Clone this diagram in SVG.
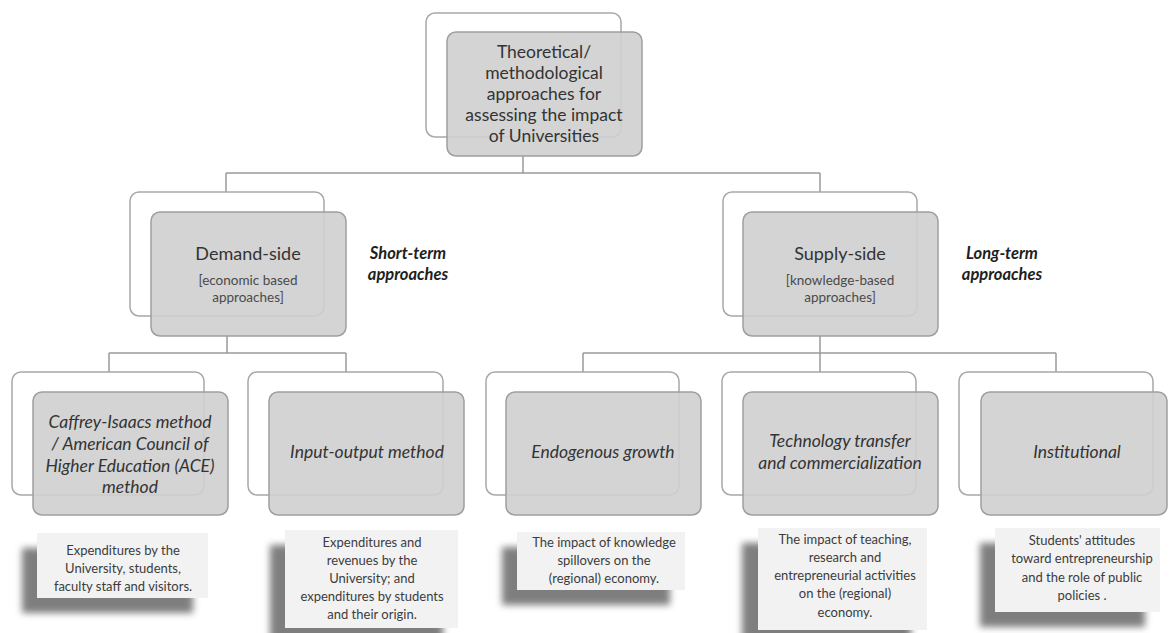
<svg xmlns="http://www.w3.org/2000/svg" width="1169" height="633" viewBox="0 0 1169 633">
  <defs>
    <style>
      .back { fill: #ffffff; stroke: #a8a8a8; stroke-width: 1.5; }
      .front { fill: #cfcfcf; fill-opacity: 0.9; stroke: #9e9e9e; stroke-width: 1.5; }
      .link { fill: none; stroke: #9a9a9a; stroke-width: 1.5; }
      .t { font-family: Lato, "Open Sans", sans-serif; fill: #333333; text-anchor: middle; }
      .title { font-size: 17.5px; }
      .main { font-size: 18px; }
      .sub { font-size: 13.5px; fill: #4a4a4a; }
      .meth { font-size: 17.5px; font-style: italic; }
      .side { font-size: 16.5px; font-style: italic; font-weight: bold; fill: #1e1e1e; }
      .desc { font-size: 13px; fill: #3c3c3c; }
      .card { fill: #f2f2f2; }
      .shade { fill: #5e5e5e; opacity: 0.8; filter: url(#blur); }
    </style>
    <filter id="blur" x="-20%" y="-30%" width="140%" height="160%">
      <feGaussianBlur stdDeviation="3.5"/>
    </filter>
  </defs>

  <rect width="1169" height="633" fill="#ffffff"/>

  <!-- connectors -->
  <g id="connectors">
    <path class="link" d="M523 156 V173 M226 173 H820 M226 173 V192 M820 173 V192"/>
    <path class="link" d="M227 336 V353 M109 353 H346 M109 353 V372 M346 353 V372"/>
    <path class="link" d="M820 336 V353 M583 353 H1056 M583 353 V372 M820 353 V372 M1056 353 V372"/>
  </g>

  <!-- root -->
  <g id="root">
    <rect class="back" x="426" y="13" width="195" height="124" rx="9"/>
    <rect class="front" x="447" y="32" width="195" height="124" rx="9"/>
    <text class="t title" x="544" y="58">Theoretical/</text>
    <text class="t title" x="544" y="79">methodological</text>
    <text class="t title" x="544" y="100">approaches for</text>
    <text class="t title" x="544" y="121">assessing the impact</text>
    <text class="t title" x="544" y="142">of Universities</text>
  </g>

  <!-- demand side -->
  <g id="demand-side">
    <rect class="back" x="130" y="192" width="194" height="124" rx="9"/>
    <rect class="front" x="151" y="212" width="195" height="124" rx="9"/>
    <text class="t main" x="248" y="260">Demand-side</text>
    <text class="t sub" x="248" y="285">[economic based</text>
    <text class="t sub" x="248" y="302">approaches]</text>
  </g>
  <g id="short-term">
    <text class="t side" x="408" y="259">Short-term</text>
    <text class="t side" x="408" y="280">approaches</text>
  </g>

  <!-- supply side -->
  <g id="supply-side">
    <rect class="back" x="723" y="192" width="194" height="124" rx="9"/>
    <rect class="front" x="743" y="212" width="195" height="124" rx="9"/>
    <text class="t main" x="840" y="260">Supply-side</text>
    <text class="t sub" x="840" y="285">[knowledge-based</text>
    <text class="t sub" x="840" y="302">approaches]</text>
  </g>
  <g id="long-term">
    <text class="t side" x="1002" y="259">Long-term</text>
    <text class="t side" x="1002" y="280">approaches</text>
  </g>

  <!-- methods -->
  <g id="caffrey-isaacs">
    <rect class="back" x="12" y="372" width="192" height="123" rx="9"/>
    <rect class="front" x="33" y="392" width="195" height="123" rx="9"/>
    <text class="t meth" x="130" y="428">Caffrey-Isaacs method</text>
    <text class="t meth" x="130" y="450">/ American Council of</text>
    <text class="t meth" x="130" y="472">Higher Education (ACE)</text>
    <text class="t meth" x="130" y="493">method</text>
  </g>
  <g id="input-output">
    <rect class="back" x="248" y="372" width="195" height="123" rx="9"/>
    <rect class="front" x="269" y="392" width="195" height="123" rx="9"/>
    <text class="t meth" x="367" y="458">Input-output method</text>
  </g>
  <g id="endogenous-growth">
    <rect class="back" x="486" y="372" width="193" height="123" rx="9"/>
    <rect class="front" x="506" y="392" width="195" height="123" rx="9"/>
    <text class="t meth" x="603" y="458">Endogenous growth</text>
  </g>
  <g id="technology-transfer">
    <rect class="back" x="722" y="372" width="194" height="123" rx="9"/>
    <rect class="front" x="743" y="392" width="195" height="123" rx="9"/>
    <text class="t meth" x="840" y="447">Technology transfer</text>
    <text class="t meth" x="840" y="469">and commercialization</text>
  </g>
  <g id="institutional">
    <rect class="back" x="959" y="372" width="194" height="123" rx="9"/>
    <rect class="front" x="981" y="392" width="186" height="123" rx="9"/>
    <text class="t meth" x="1077" y="458">Institutional</text>
  </g>

  <!-- descriptions -->
  <g id="desc-caffrey">
    <rect class="shade" x="22" y="548" width="171" height="65"/>
    <rect class="card" x="37" y="533" width="171" height="65"/>
    <text class="t desc" x="123" y="555">Expenditures by the</text>
    <text class="t desc" x="123" y="573">University, students,</text>
    <text class="t desc" x="123" y="591">faculty staff and visitors.</text>
  </g>
  <g id="desc-input-output">
    <rect class="shade" x="270" y="545" width="173" height="98"/>
    <rect class="card" x="285" y="530" width="173" height="98"/>
    <text class="t desc" x="372" y="547">Expenditures and</text>
    <text class="t desc" x="372" y="565">revenues by the</text>
    <text class="t desc" x="372" y="583">University; and</text>
    <text class="t desc" x="372" y="601">expenditures by students</text>
    <text class="t desc" x="372" y="619">and their origin.</text>
  </g>
  <g id="desc-endogenous">
    <rect class="shade" x="502" y="547" width="168" height="58"/>
    <rect class="card" x="517" y="532" width="168" height="58"/>
    <text class="t desc" x="604" y="547">The impact of knowledge</text>
    <text class="t desc" x="604" y="565">spillovers on the</text>
    <text class="t desc" x="604" y="583">(regional) economy.</text>
  </g>
  <g id="desc-technology">
    <rect class="shade" x="742" y="543" width="169" height="102"/>
    <rect class="card" x="758" y="528" width="169" height="102"/>
    <text class="t desc" x="845" y="544">The impact of teaching,</text>
    <text class="t desc" x="845" y="562">research and</text>
    <text class="t desc" x="845" y="580">entrepreneurial activities</text>
    <text class="t desc" x="845" y="598">on the (regional)</text>
    <text class="t desc" x="845" y="617">economy.</text>
  </g>
  <g id="desc-institutional">
    <rect class="shade" x="980" y="543" width="165" height="84"/>
    <rect class="card" x="995" y="528" width="165" height="84"/>
    <text class="t desc" x="1082" y="545">Students' attitudes</text>
    <text class="t desc" x="1082" y="563">toward entrepreneurship</text>
    <text class="t desc" x="1082" y="582">and the role of public</text>
    <text class="t desc" x="1082" y="600">policies .</text>
  </g>
</svg>
